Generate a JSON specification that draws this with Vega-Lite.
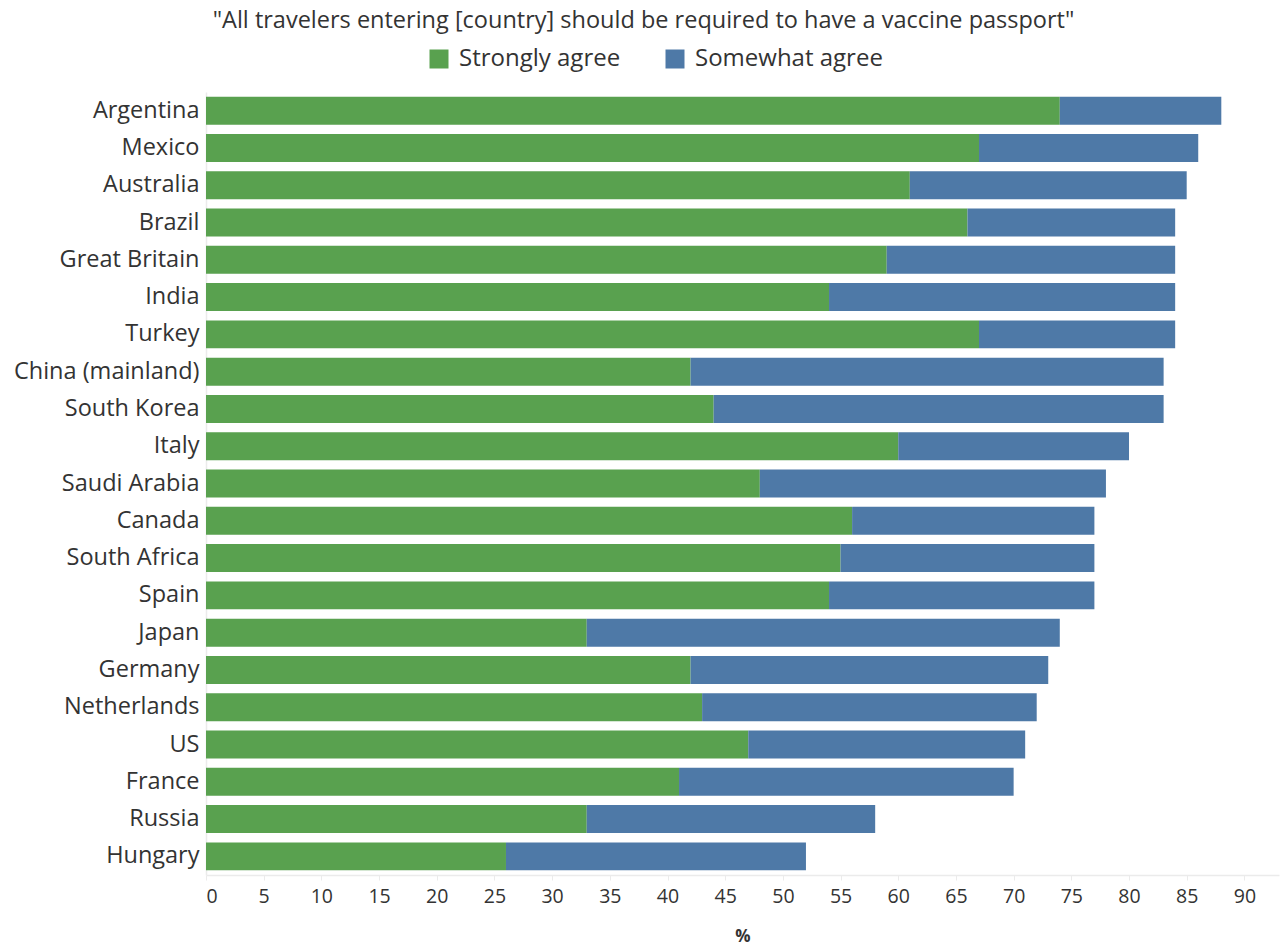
{
  "$schema": "https://vega.github.io/schema/vega-lite/v6.json",
  "width": 1073,
  "height": 783,
  "autosize": {"type": "none"},
  "padding": {"left": 206, "top": 92, "right": 8, "bottom": 72},
  "background": "white",
  "title": {
    "text": "\"All travelers entering [country] should be required to have a vaccine passport\"",
    "font": "Open Sans",
    "fontSize": 23.5,
    "fontWeight": "normal",
    "color": "#333333",
    "anchor": "middle",
    "frame": "group",
    "dx": -99,
    "offset": 15,
    "limit": 1200
  },
  "data": {
    "values": [
      {"country": "Argentina", "type": "Strongly agree", "value": 74},
      {"country": "Argentina", "type": "Somewhat agree", "value": 14},
      {"country": "Mexico", "type": "Strongly agree", "value": 67},
      {"country": "Mexico", "type": "Somewhat agree", "value": 19},
      {"country": "Australia", "type": "Strongly agree", "value": 61},
      {"country": "Australia", "type": "Somewhat agree", "value": 24},
      {"country": "Brazil", "type": "Strongly agree", "value": 66},
      {"country": "Brazil", "type": "Somewhat agree", "value": 18},
      {"country": "Great Britain", "type": "Strongly agree", "value": 59},
      {"country": "Great Britain", "type": "Somewhat agree", "value": 25},
      {"country": "India", "type": "Strongly agree", "value": 54},
      {"country": "India", "type": "Somewhat agree", "value": 30},
      {"country": "Turkey", "type": "Strongly agree", "value": 67},
      {"country": "Turkey", "type": "Somewhat agree", "value": 17},
      {"country": "China (mainland)", "type": "Strongly agree", "value": 42},
      {"country": "China (mainland)", "type": "Somewhat agree", "value": 41},
      {"country": "South Korea", "type": "Strongly agree", "value": 44},
      {"country": "South Korea", "type": "Somewhat agree", "value": 39},
      {"country": "Italy", "type": "Strongly agree", "value": 60},
      {"country": "Italy", "type": "Somewhat agree", "value": 20},
      {"country": "Saudi Arabia", "type": "Strongly agree", "value": 48},
      {"country": "Saudi Arabia", "type": "Somewhat agree", "value": 30},
      {"country": "Canada", "type": "Strongly agree", "value": 56},
      {"country": "Canada", "type": "Somewhat agree", "value": 21},
      {"country": "South Africa", "type": "Strongly agree", "value": 55},
      {"country": "South Africa", "type": "Somewhat agree", "value": 22},
      {"country": "Spain", "type": "Strongly agree", "value": 54},
      {"country": "Spain", "type": "Somewhat agree", "value": 23},
      {"country": "Japan", "type": "Strongly agree", "value": 33},
      {"country": "Japan", "type": "Somewhat agree", "value": 41},
      {"country": "Germany", "type": "Strongly agree", "value": 42},
      {"country": "Germany", "type": "Somewhat agree", "value": 31},
      {"country": "Netherlands", "type": "Strongly agree", "value": 43},
      {"country": "Netherlands", "type": "Somewhat agree", "value": 29},
      {"country": "US", "type": "Strongly agree", "value": 47},
      {"country": "US", "type": "Somewhat agree", "value": 24},
      {"country": "France", "type": "Strongly agree", "value": 41},
      {"country": "France", "type": "Somewhat agree", "value": 29},
      {"country": "Russia", "type": "Strongly agree", "value": 33},
      {"country": "Russia", "type": "Somewhat agree", "value": 25},
      {"country": "Hungary", "type": "Strongly agree", "value": 26},
      {"country": "Hungary", "type": "Somewhat agree", "value": 26}
    ]
  },
  "transform": [
    {"calculate": "datum.type === 'Strongly agree' ? 0 : 1", "as": "ord"}
  ],
  "mark": {"type": "bar"},
  "encoding": {
    "y": {
      "field": "country",
      "type": "nominal",
      "sort": ["Argentina","Mexico","Australia","Brazil","Great Britain","India","Turkey","China (mainland)","South Korea","Italy","Saudi Arabia","Canada","South Africa","Spain","Japan","Germany","Netherlands","US","France","Russia","Hungary"],
      "scale": {"paddingInner": 0.25, "paddingOuter": 0.125},
      "axis": {
        "title": null,
        "labelFont": "Open Sans",
        "labelFontSize": 23.5,
        "labelColor": "#333333",
        "labelPadding": 7,
        "labelLimit": 400,
        "ticks": false,
        "domainColor": "#ebebeb",
        "domainWidth": 1.5,
        "grid": false
      }
    },
    "x": {
      "field": "value",
      "type": "quantitative",
      "stack": "zero",
      "scale": {"domain": [0, 93], "nice": false},
      "axis": {
        "title": "%",
        "titleFont": "Open Sans",
        "titleFontSize": 17,
        "titleFontWeight": "bold",
        "titleColor": "#333333",
        "titlePadding": 23,
        "values": [0,5,10,15,20,25,30,35,40,45,50,55,60,65,70,75,80,85,90],
        "labelFont": "Open Sans",
        "labelFontSize": 19.5,
        "labelColor": "#333333",
        "labelPadding": 7,
        "tickColor": "#ebebeb",
        "tickSize": 5,
        "domainColor": "#ebebeb",
        "domainWidth": 1.5,
        "grid": false
      }
    },
    "color": {
      "field": "type",
      "type": "nominal",
      "scale": {"domain": ["Strongly agree", "Somewhat agree"], "range": ["#59a14f", "#4e79a7"]},
      "legend": {
        "title": null,
        "orient": "none",
        "legendX": 221,
        "legendY": -45,
        "direction": "horizontal",
        "symbolType": "square",
        "symbolSize": 361,
        "symbolStrokeWidth": 0,
        "labelFont": "Open Sans",
        "labelFontSize": 24,
        "labelColor": "#333333",
        "labelOffset": 8,
        "labelLimit": 400,
        "columnPadding": 42
      }
    },
    "order": {"field": "ord", "type": "quantitative"}
  },
  "config": {"view": {"stroke": null}}
}
